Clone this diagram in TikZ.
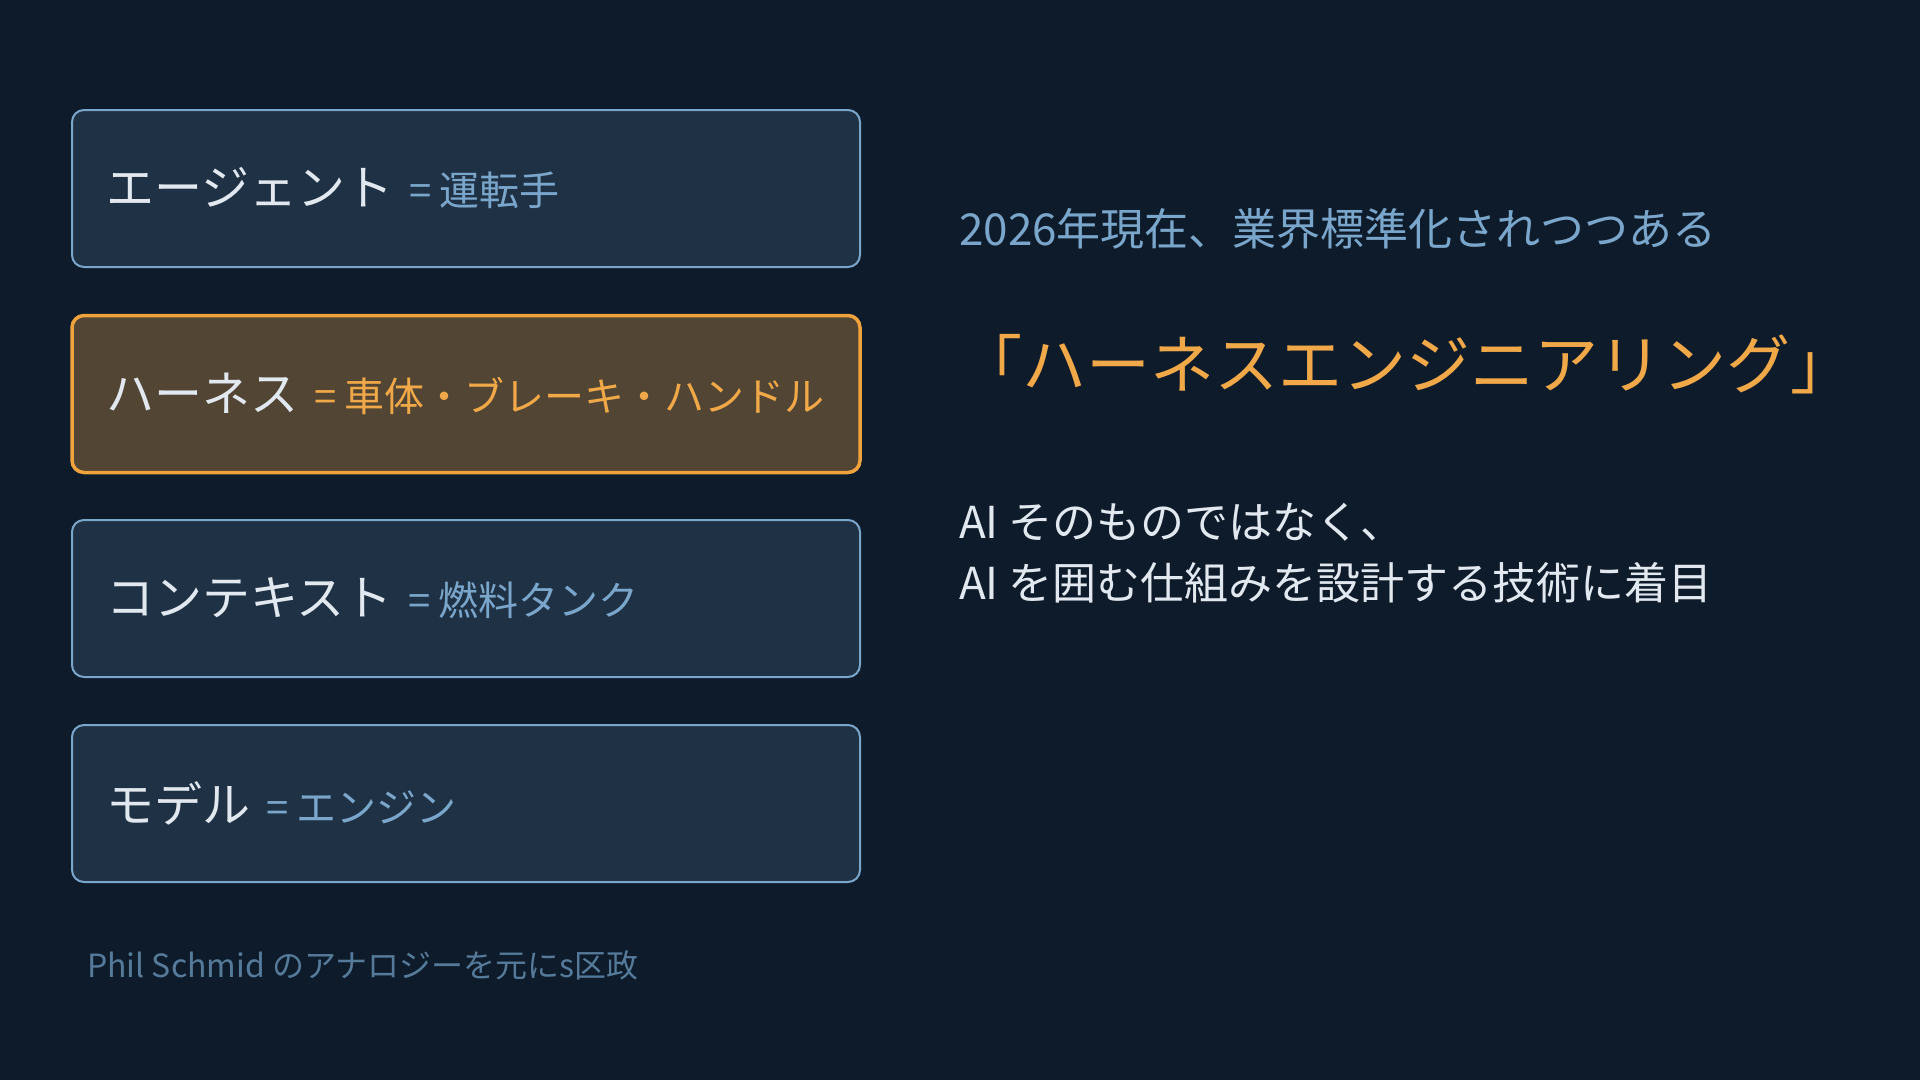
\documentclass[tikz,border=0pt]{standalone}
\usepackage{fontspec}
\setmainfont{Noto Sans CJK JP}
\newfontfamily\regfont{Noto Sans CJK JP}
\definecolor{bg}{HTML}{0E1B2A}
\definecolor{boxfill}{HTML}{1F3144}
\definecolor{boxline}{HTML}{7BA6CB}
\definecolor{hfill}{HTML}{524533}
\definecolor{hline}{HTML}{F0A33C}
\definecolor{subblue}{HTML}{7BA6CB}
\definecolor{orange}{HTML}{F0A848}
\definecolor{maintext}{HTML}{E2E8EF}
\definecolor{foot}{HTML}{557A9A}
\tikzset{
  card/.style={draw=boxline, fill=boxfill, line width=2pt, rounded corners=12pt,
    minimum height=157pt, text width=720pt, inner xsep=34pt, inner ysep=0pt,
    align=left, anchor=center, text=maintext},
  hcard/.style={card, draw=hline, fill=hfill, line width=3.5pt},
  plain/.style={inner sep=0pt, anchor=west, align=left},
}
\newcommand{\bigt}{\fontsize{48}{58}\selectfont}
\newcommand{\subt}{\fontsize{40}{48}\selectfont}
\newcommand{\cardtext}[3]{\raisebox{-3pt}{\bigt #1\hspace{16pt}{\subt\color{#3}=\hspace{8pt}#2}}}
\begin{document}
\begin{tikzpicture}[x=1pt,y=-1pt]
\fill[bg] (0,0) rectangle (1920,1080);
\useasboundingbox (0,0) rectangle (1920,1080);
\node[card] (agent) at (466,188.5) {\cardtext{エージェント}{運転手}{subblue}};
\node[hcard] (harness) at (466,394) {\cardtext{ハーネス}{車体・ブレーキ・ハンドル}{orange}};
\node[card] (context) at (466,598.5) {\cardtext{コンテキスト}{燃料タンク}{subblue}};
\node[card] (model) at (466,803.5) {\cardtext{モデル}{エンジン}{subblue}};
\node[plain, text=foot] (foot) at (87,965) {\regfont\fontsize{32}{38}\selectfont Phil Schmid のアナロジーを元にs区政};
\node[plain, text=subblue] (year) at (959,228.5) {\fontsize{44}{52}\selectfont 2026年現在、業界標準化されつつある};
\node[plain, text=orange] (title) at (958,364) {\fontsize{64}{74}\selectfont 「ハーネスエンジニアリング」};
\node[plain, text=maintext] (l1) at (959,522) {\fontsize{44}{52}\selectfont AI そのものではなく、};
\node[plain, text=maintext] (l2) at (959,583) {\fontsize{44}{52}\selectfont AI を囲む仕組みを設計する技術に着目};
\end{tikzpicture}
\end{document}
